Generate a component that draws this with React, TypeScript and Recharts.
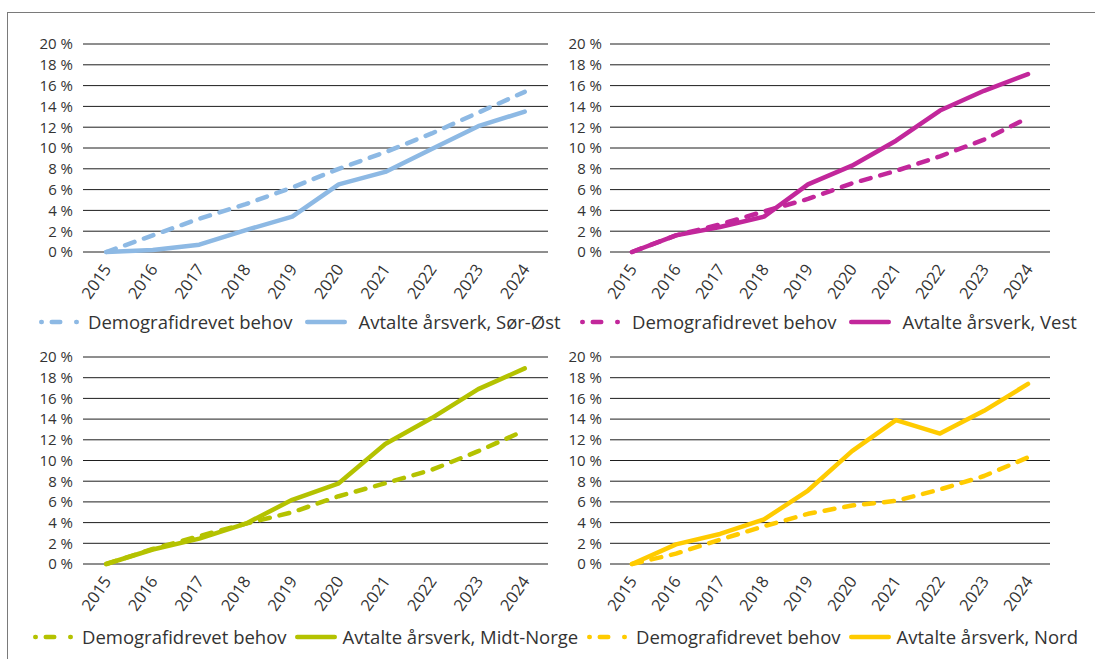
import React from 'react';
import { LineChart, Line, XAxis, YAxis, CartesianGrid } from 'recharts';

const years = ['2015', '2016', '2017', '2018', '2019', '2020', '2021', '2022', '2023', '2024'];
const yTicks = [0, 2, 4, 6, 8, 10, 12, 14, 16, 18, 20];

const sorOstBehov = [0, 1.6, 3.2, 4.6, 6.2, 8.0, 9.6, 11.4, 13.4, 15.4];
const sorOstAvtalte = [0, 0.2, 0.7, 2.1, 3.4, 6.5, 7.7, 9.9, 12.1, 13.5];
const vestBehov = [0, 1.6, 2.65, 3.9, 5.1, 6.6, 7.8, 9.2, 10.8, 12.9];
const vestAvtalte = [0, 1.6, 2.4, 3.4, 6.5, 8.3, 10.7, 13.6, 15.5, 17.1];
const midtBehov = [0, 1.45, 2.7, 3.9, 5.0, 6.55, 7.8, 9.1, 10.9, 12.9];
const midtAvtalte = [0, 1.4, 2.45, 3.9, 6.2, 7.8, 11.6, 14.1, 16.9, 18.9];
const nordBehov = [0, 1.0, 2.35, 3.65, 4.85, 5.65, 6.1, 7.2, 8.5, 10.3];
const nordAvtalte = [0, 1.9, 2.9, 4.3, 7.1, 10.9, 13.9, 12.6, 14.8, 17.4];

const behovLabel = 'Demografidrevet behov';
const avtalteLabels = ['Avtalte årsverk, Sør-Øst', 'Avtalte årsverk, Vest', 'Avtalte årsverk, Midt-Norge', 'Avtalte årsverk, Nord'];
const colors = ['#8DB9E4', '#C2279B', '#B4C200', '#FFCB00'];

const build = (behov: number[], avtalte: number[]) =>
  years.map((year, i) => ({ year, behov: behov[i], avtalte: avtalte[i] }));

const FONT = "'Open Sans', 'Noto Sans', sans-serif";
const TEXT = '#333333';

const XTick = (props: any) => {
  const { x, y, payload } = props;
  return (
    <g transform={`translate(${x + 1},${y + 6})`}>
      <text textAnchor="end" transform="rotate(-55)" dy="0.35em" fontSize={16.5} fill={TEXT} fontFamily={FONT}>
        {payload.value}
      </text>
    </g>
  );
};

type PanelProps = {
  left: number; top: number; width: number; height: number;
  margin: { top: number; right: number; left: number; bottom: number };
  yWidth: number; xHeight: number; tickMargin: number; pad: number;
  data: any[]; color: string;
};

const Panel = ({ left, top, width, height, margin, yWidth, xHeight, tickMargin, pad, data, color }: PanelProps) => (
  <div style={{ position: 'absolute', left, top }}>
    <LineChart width={width} height={height} data={data} margin={margin}>
      <CartesianGrid horizontal vertical={false} stroke="#1e1e1e" strokeWidth={1} />
      <XAxis dataKey="year" interval={0} tickLine={false} axisLine={false} height={xHeight}
        padding={{ left: pad, right: pad }} tick={<XTick />} />
      <YAxis
        domain={[0, 20]}
        ticks={yTicks}
        interval={0}
        width={yWidth}
        tickLine={false}
        axisLine={false}
        tickMargin={tickMargin}
        tickFormatter={(v: number) => `${v} %`}
        tick={{ fontSize: 15, fill: TEXT, fontFamily: FONT }}
      />
      <Line
        type="linear"
        dataKey="behov"
        stroke={color}
        strokeWidth={4.5}
        strokeDasharray="10 10"
        strokeLinecap="round"
        strokeLinejoin="round"
        dot={false}
        isAnimationActive={false}
      />
      <Line
        type="linear"
        dataKey="avtalte"
        stroke={color}
        strokeWidth={4.5}
        strokeLinecap="round"
        strokeLinejoin="round"
        dot={false}
        isAnimationActive={false}
      />
    </LineChart>
  </div>
);

const LegendRow = ({ left, top, color, label, g1, g2, g3 }: { left: number; top: number; color: string; label: string; g1: number; g2: number; g3: number }) => (
  <div style={{ position: 'absolute', left, top, display: 'flex', alignItems: 'center', whiteSpace: 'nowrap', fontFamily: FONT, fontSize: 18.5, color: TEXT, lineHeight: '24px' }}>
    <svg width={40} height={10} style={{ marginRight: g1 }}>
      <line x1={2.25} y1={5} x2={37.75} y2={5} stroke={color} strokeWidth={4.5} strokeLinecap="round" strokeDasharray="0.5 10 8.5 16 0.5 100" />
    </svg>
    <span style={{ marginRight: g2 }}>{behovLabel}</span>
    <svg width={42} height={10} style={{ marginRight: g3 }}>
      <line x1={2.25} y1={5} x2={39.75} y2={5} stroke={color} strokeWidth={4.5} strokeLinecap="round" />
    </svg>
    <span>{label}</span>
  </div>
);

export default function App() {
  const datasets = [
    build(sorOstBehov, sorOstAvtalte),
    build(vestBehov, vestAvtalte),
    build(midtBehov, midtAvtalte),
    build(nordBehov, nordAvtalte),
  ];
  return (
    <div style={{ position: 'fixed', left: 0, top: 0, width: 1095, height: 659, overflow: 'hidden', background: '#fff', fontFamily: FONT }}>
      <div style={{ position: 'absolute', left: 7, top: 12, width: 1200, height: 800, border: '1px solid #7a7a7a' }} />
      <Panel left={0} top={0} width={560} height={320} margin={{ top: 44, right: 12, left: 0, bottom: 0 }}
        yWidth={83} xHeight={68} tickMargin={4} pad={23.25} data={datasets[0]} color={colors[0]} />
      <Panel left={560} top={0} width={500} height={320} margin={{ top: 44, right: 10, left: 0, bottom: 0 }}
        yWidth={50} xHeight={68} tickMargin={2} pad={22} data={datasets[1]} color={colors[1]} />
      <Panel left={0} top={320} width={560} height={310} margin={{ top: 37, right: 12, left: 0, bottom: 0 }}
        yWidth={83} xHeight={66} tickMargin={4} pad={23.25} data={datasets[2]} color={colors[2]} />
      <Panel left={560} top={320} width={500} height={310} margin={{ top: 37, right: 10, left: 0, bottom: 0 }}
        yWidth={50} xHeight={66} tickMargin={2} pad={22} data={datasets[3]} color={colors[3]} />
      <LegendRow left={39} top={310} color={colors[0]} label={avtalteLabels[0]} g1={9} g2={12} g3={12} />
      <LegendRow left={580} top={310} color={colors[1]} label={avtalteLabels[1]} g1={12} g2={12} g3={12} />
      <LegendRow left={33} top={625} color={colors[2]} label={avtalteLabels[2]} g1={9} g2={8} g3={6} />
      <LegendRow left={587} top={625} color={colors[3]} label={avtalteLabels[3]} g1={9} g2={8} g3={6} />
    </div>
  );
}
